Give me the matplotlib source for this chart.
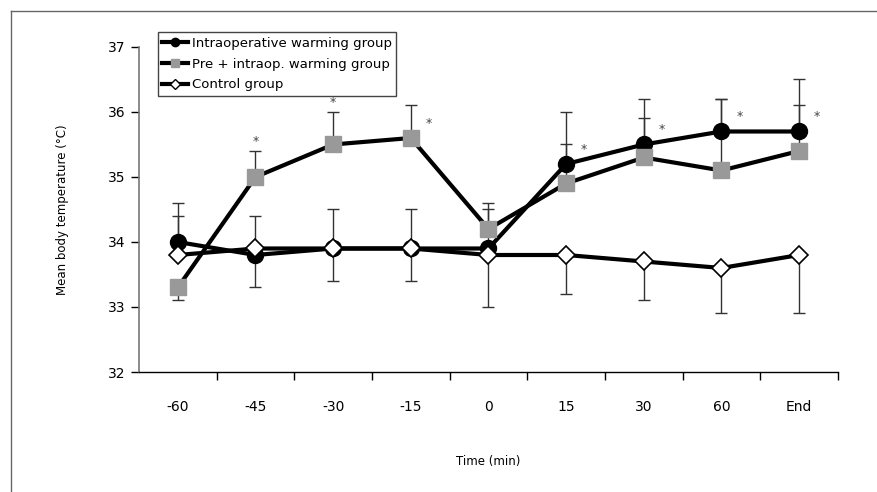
import matplotlib.pyplot as plt
from matplotlib.lines import Line2D
import numpy as np

plt.rcParams['font.family'] = ['DejaVu Sans']
plt.rcParams['font.size'] = 10

time_labels = ['-60', '-45', '-30', '-15', '0', '15', '30', '60', 'End']

intra = [34.0, 33.8, 33.9, 33.9, 33.9, 35.2, 35.5, 35.7, 35.7]
intra_up = [0.6, 0, 0, 0, 0.6, 0.8, 0.7, 0.5, 0.8]
intra_down = [0, 0.5, 0.5, 0.5, 0, 0, 0, 0, 0]

pre = [33.3, 35.0, 35.5, 35.6, 34.2, 34.9, 35.3, 35.1, 35.4]
pre_up = [0, 0.4, 0.5, 0.5, 0.4, 0.6, 0.6, 1.1, 0.7]
pre_down = [0.2, 0, 0, 0, 0, 0, 0, 0, 0]

control = [33.8, 33.9, 33.9, 33.9, 33.8, 33.8, 33.7, 33.6, 33.8]
control_up = [0.6, 0.5, 0.6, 0.6, 0, 0, 0, 0, 0]
control_down = [0, 0, 0, 0, 0.8, 0.6, 0.6, 0.7, 0.9]

# significance stars
stars_pre = [1, 2]
stars_side = [('pre', 3), ('intra', 5), ('intra', 6), ('intra', 7), ('intra', 8)]

x = np.arange(len(time_labels))

fig = plt.figure(figsize=(8.78, 4.92), dpi=100)
ax = fig.add_axes([0.1583, 0.2439, 0.7961, 0.6606])

ecol = '#333333'
for vals, up, down in [(intra, intra_up, intra_down), (pre, pre_up, pre_down),
                       (control, control_up, control_down)]:
    for i in range(len(vals)):
        if up[i] > 0:
            ax.errorbar(x[i], vals[i], yerr=[[0], [up[i]]], fmt='none', ecolor=ecol,
                        elinewidth=1, capsize=4, capthick=1, zorder=1)
        if down[i] > 0:
            ax.errorbar(x[i], vals[i], yerr=[[down[i]], [0]], fmt='none', ecolor=ecol,
                        elinewidth=1, capsize=4, capthick=1, zorder=1)

ax.plot(x, intra, color='black', lw=3, marker='o', ms=11.5, mfc='black', mec='black', zorder=3)
ax.plot(x, pre, color='black', lw=3, marker='s', ms=11, mfc='#999999', mec='#999999', zorder=4)
ax.plot(x, control, color='black', lw=3, marker='D', ms=9, mfc='white', mec='black', mew=1.2, zorder=5)

for i in stars_pre:
    ax.annotate('*', (x[i], pre[i] + pre_up[i]), xytext=(0, 2), textcoords='offset points',
                ha='center', va='bottom', fontsize=9, color='#444444')
series = {'pre': pre, 'intra': intra}
for name, i in stars_side:
    ax.annotate('*', (x[i], series[name][i]), xytext=(13, 6), textcoords='offset points',
                ha='center', va='bottom', fontsize=9, color='#444444')

ax.set_xlim(-0.5, len(time_labels) - 0.5)
ax.set_ylim(32, 37)
ax.set_yticks([32, 33, 34, 35, 36, 37])
ax.set_xticks(x)
ax.set_xticklabels(time_labels)
ax.set_xticks(np.arange(0.5, len(time_labels), 1), minor=True)
ax.tick_params(axis='x', which='major', length=0, pad=20, labelsize=10)
ax.tick_params(axis='x', which='minor', length=6, direction='out', width=1)
ax.tick_params(axis='y', length=6, width=1, direction='out', labelsize=10)
ax.spines['top'].set_visible(False)
ax.spines['right'].set_visible(False)
ax.spines['left'].set_color('#777777')
ax.spines['left'].set_linewidth(1.2)
ax.spines['bottom'].set_linewidth(1)

ax.set_ylabel('Mean body temperature (\u00b0C)', fontsize=8.5, labelpad=28)
ax.set_xlabel('Time (min)', fontsize=8.5, labelpad=30)

handles = [
    Line2D([], [], color='black', lw=3, marker='o', ms=6, mfc='black', mec='black'),
    Line2D([], [], color='black', lw=3, marker='s', ms=6, mfc='#999999', mec='#999999'),
    Line2D([], [], color='black', lw=3, marker='D', ms=5, mfc='white', mec='black'),
]
leg = ax.legend(handles, ['Intraoperative warming group', 'Pre + intraop. warming group', 'Control group'],
                loc='upper left', bbox_to_anchor=(0.027, 1.046), borderaxespad=0,
                handlelength=1.9, handletextpad=0.3, labelspacing=0.6, borderpad=0.35,
                fancybox=False, framealpha=1, fontsize=9.5)
leg.get_frame().set_edgecolor('#444444')
leg.get_frame().set_linewidth(1)

# outer frame lines (top and left)
fig.add_artist(Line2D([11 / 878, 1], [1 - 11 / 492, 1 - 11 / 492], color='#666666', lw=1))
fig.add_artist(Line2D([11 / 878, 11 / 878], [0, 1 - 11 / 492], color='#666666', lw=1))

plt.savefig('out.png', dpi=100)
